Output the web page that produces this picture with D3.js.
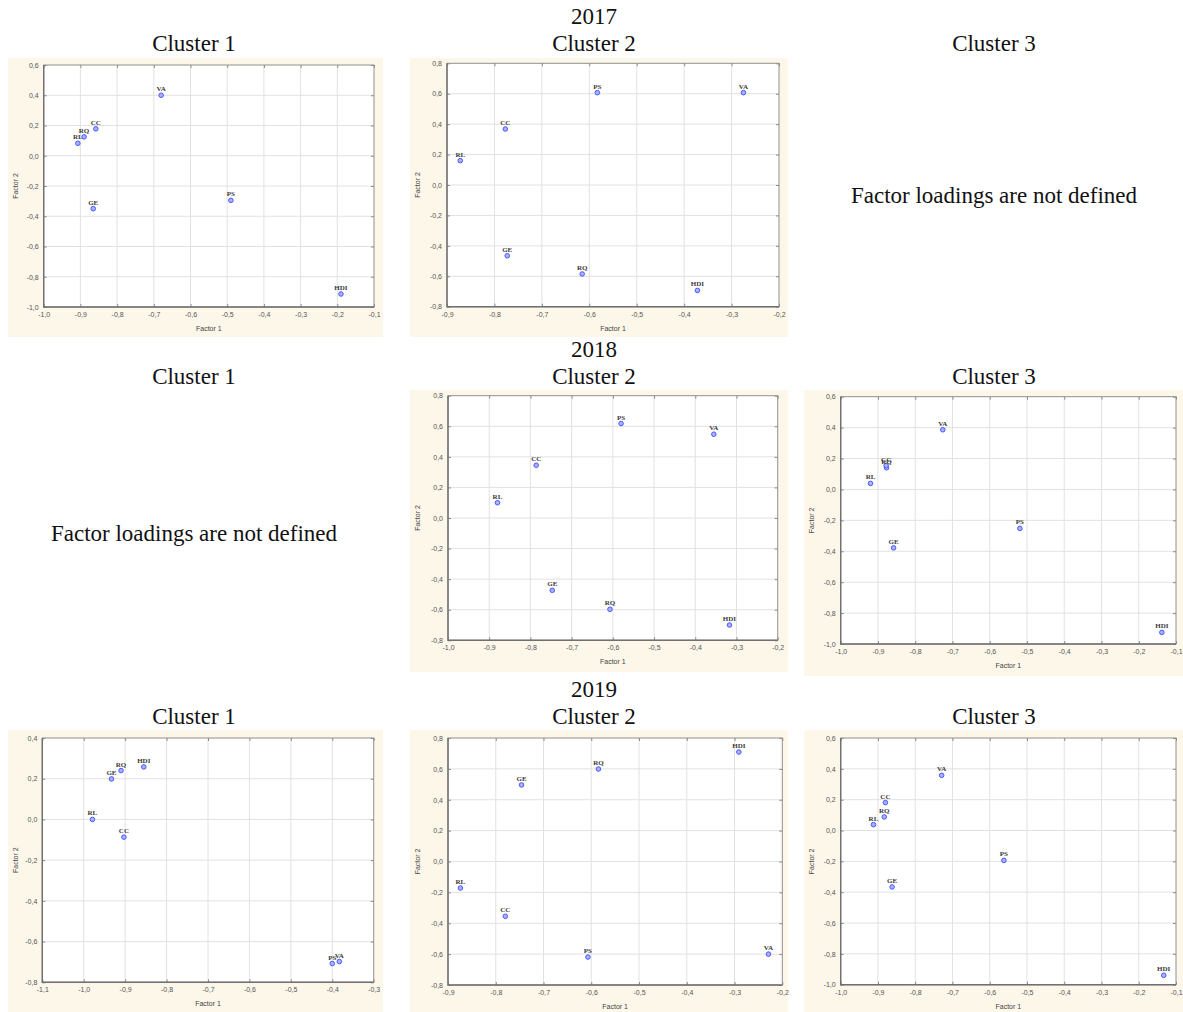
<!DOCTYPE html>
<html>
<head>
<meta charset="utf-8">
<script src="https://cdn.jsdelivr.net/npm/d3@7"></script>
<style>
  html, body { margin: 0; padding: 0; background: #fff; }
  svg { display: block; }
</style>
</head>
<body>
<svg id="chart" width="1183" height="1012"></svg>
<script>
// Indicator codes shown on the factor-loading plots
const codes = ["VA", "PS", "GE", "RQ", "RL", "CC", "HDI"];

// 2017, Cluster 1: Factor 1 / Factor 2 loadings (order follows `codes`)
const f1_2017_c1 = [-0.68, -0.49, -0.865, -0.89, -0.907, -0.858, -0.19];
const f2_2017_c1 = [0.40, -0.295, -0.35, 0.125, 0.082, 0.178, -0.914];
// 2017, Cluster 2
const f1_2017_c2 = [-0.275, -0.583, -0.773, -0.615, -0.872, -0.777, -0.372];
const f2_2017_c2 = [0.607, 0.607, -0.465, -0.585, 0.16, 0.368, -0.693];
// 2018, Cluster 2
const f1_2018_c2 = [-0.355, -0.58, -0.747, -0.607, -0.88, -0.786, -0.317];
const f2_2018_c2 = [0.548, 0.618, -0.473, -0.597, 0.10, 0.345, -0.70];
// 2018, Cluster 3
const f1_2018_c3 = [-0.726, -0.519, -0.858, -0.877, -0.92, -0.878, -0.138];
const f2_2018_c3 = [0.386, -0.252, -0.378, 0.14, 0.039, 0.154, -0.925];
// 2019, Cluster 1
const f1_2019_c1 = [-0.383, -0.40, -0.933, -0.91, -0.979, -0.903, -0.855];
const f2_2019_c1 = [-0.698, -0.708, 0.199, 0.24, 0.0, -0.087, 0.258];
// 2019, Cluster 2
const f1_2019_c2 = [-0.229, -0.607, -0.746, -0.585, -0.874, -0.78, -0.291];
const f2_2019_c2 = [-0.60, -0.619, 0.496, 0.599, -0.172, -0.355, 0.709];
// 2019, Cluster 3
const f1_2019_c3 = [-0.729, -0.562, -0.862, -0.883, -0.912, -0.88, -0.133];
const f2_2019_c3 = [0.358, -0.194, -0.366, 0.088, 0.038, 0.181, -0.939];

// Axis tick values
const ticksX_m10_m01 = [-1.0, -0.9, -0.8, -0.7, -0.6, -0.5, -0.4, -0.3, -0.2, -0.1];
const ticksX_m09_m02 = [-0.9, -0.8, -0.7, -0.6, -0.5, -0.4, -0.3, -0.2];
const ticksX_m10_m02 = [-1.0, -0.9, -0.8, -0.7, -0.6, -0.5, -0.4, -0.3, -0.2];
const ticksX_m11_m03 = [-1.1, -1.0, -0.9, -0.8, -0.7, -0.6, -0.5, -0.4, -0.3];
const ticksY_m10_06 = [-1.0, -0.8, -0.6, -0.4, -0.2, 0.0, 0.2, 0.4, 0.6];
const ticksY_m08_08 = [-0.8, -0.6, -0.4, -0.2, 0.0, 0.2, 0.4, 0.6, 0.8];
const ticksY_m08_04 = [-0.8, -0.6, -0.4, -0.2, 0.0, 0.2, 0.4];

// Headings
const years = ["2017", "2018", "2019"];
const clusterNames = ["Cluster 1", "Cluster 2", "Cluster 3"];
const emptyNote = "Factor loadings are not defined";

const svg = d3.select("#chart");
const serif = "'Liberation Serif', 'Times New Roman', serif";
const sans = "'Liberation Sans', Arial, sans-serif";
const fmt = v => d3.format(".1f")(v).replace("\u2212", "-").replace(".", ",");
const headSize = 23;

// Column centres and row heading baselines
const colX = [194, 594, 994];
const yearY = [24, 357, 697];
const clusterY = [51, 384, 724];

years.forEach((yr, r) => {
  svg.append("text").attr("x", colX[1]).attr("y", yearY[r])
    .attr("text-anchor", "middle").attr("font-family", serif)
    .attr("font-size", headSize).attr("fill", "#111").text(yr);
  clusterNames.forEach((c, i) => {
    svg.append("text").attr("x", colX[i]).attr("y", clusterY[r])
      .attr("text-anchor", "middle").attr("font-family", serif)
      .attr("font-size", headSize).attr("fill", "#111").text(c);
  });
});

// Notes for clusters without a solution
[[colX[2], 203], [colX[0], 541]].forEach(([x, y]) => {
  svg.append("text").attr("x", x).attr("y", y)
    .attr("text-anchor", "middle").attr("font-family", serif)
    .attr("font-size", headSize).attr("fill", "#111").text(emptyNote);
});

function drawPanel(p) {
  const g = svg.append("g");
  // cream page behind each plot
  g.append("rect").attr("x", p.bg[0]).attr("y", p.bg[1])
    .attr("width", p.bg[2] - p.bg[0]).attr("height", p.bg[3] - p.bg[1])
    .attr("fill", "#fdf7ea");

  const [L, T, R, B] = p.plot;
  const x = d3.scaleLinear().domain(d3.extent(p.tx)).range([L, R]);
  const y = d3.scaleLinear().domain(d3.extent(p.ty)).range([B, T]);

  g.append("rect").attr("x", L).attr("y", T).attr("width", R - L).attr("height", B - T)
    .attr("fill", "#fff");

  // grid
  g.append("g").selectAll("line").data(p.tx.slice(1, -1)).join("line")
    .attr("x1", d => x(d)).attr("x2", d => x(d)).attr("y1", T).attr("y2", B)
    .attr("stroke", "#e2e2e2").attr("stroke-width", 1);
  g.append("g").selectAll("line").data(p.ty.slice(1, -1)).join("line")
    .attr("y1", d => y(d)).attr("y2", d => y(d)).attr("x1", L).attr("x2", R)
    .attr("stroke", "#e2e2e2").attr("stroke-width", 1);

  // axes (ticks pointing inward on all sides)
  const axisStyle = sel => {
    sel.select(".domain").remove();
    sel.selectAll(".tick line").attr("stroke", "#8a8a8a");
    sel.selectAll(".tick text").attr("fill", "#555").attr("font-family", sans).attr("font-size", 7);
  };
  g.append("g").attr("transform", `translate(0,${B})`)
    .call(d3.axisBottom(x).tickValues(p.tx).tickFormat(fmt).tickSizeInner(-3).tickPadding(5))
    .call(axisStyle);
  g.append("g").attr("transform", `translate(0,${T})`)
    .call(d3.axisTop(x).tickValues(p.tx).tickFormat("").tickSizeInner(-3))
    .call(axisStyle);
  g.append("g").attr("transform", `translate(${L},0)`)
    .call(d3.axisLeft(y).tickValues(p.ty).tickFormat(fmt).tickSizeInner(-3).tickPadding(5))
    .call(axisStyle);
  g.append("g").attr("transform", `translate(${R},0)`)
    .call(d3.axisRight(y).tickValues(p.ty).tickFormat("").tickSizeInner(-3))
    .call(axisStyle);

  // frame
  g.append("rect").attr("x", L).attr("y", T).attr("width", R - L).attr("height", B - T)
    .attr("fill", "none").attr("stroke", "#909090").attr("stroke-width", 1);
  g.append("path").attr("d", `M${L},${T}V${B}H${R}`)
    .attr("fill", "none").attr("stroke", "#707070").attr("stroke-width", 1.4);

  // axis titles
  g.append("text").attr("x", (L + R) / 2).attr("y", B + 24)
    .attr("text-anchor", "middle").attr("font-family", sans).attr("font-size", 7)
    .attr("fill", "#444").text("Factor 1");
  g.append("text")
    .attr("transform", `translate(${p.bg[0] + 10},${(T + B) / 2}) rotate(-90)`)
    .attr("text-anchor", "middle").attr("font-family", sans).attr("font-size", 7)
    .attr("fill", "#444").text("Factor 2");

  // points and their labels
  const pts = codes.map((c, i) => ({ c, a: p.f1[i], b: p.f2[i] }));
  g.append("g").selectAll("circle").data(pts).join("circle")
    .attr("cx", d => x(d.a)).attr("cy", d => y(d.b)).attr("r", 2.3)
    .attr("fill", "#a9b1ff").attr("stroke", "#3d4dff").attr("stroke-width", 0.9);
  g.append("g").selectAll("text").data(pts).join("text")
    .attr("x", d => x(d.a)).attr("y", d => y(d.b) - 4)
    .attr("text-anchor", "middle").attr("font-family", serif)
    .attr("font-size", 7).attr("font-weight", "bold").attr("fill", "#3a3a3a")
    .text(d => d.c);
}

const panels = [
  { bg: [8, 58, 383, 337], plot: [43.7, 65, 374, 307], tx: ticksX_m10_m01, ty: ticksY_m10_06, f1: f1_2017_c1, f2: f2_2017_c1 },
  { bg: [410, 58, 788, 337], plot: [447, 63.3, 779, 306.7], tx: ticksX_m09_m02, ty: ticksY_m08_08, f1: f1_2017_c2, f2: f2_2017_c2 },
  { bg: [410, 390, 788, 672], plot: [448, 395.7, 777.7, 640.3], tx: ticksX_m10_m02, ty: ticksY_m08_08, f1: f1_2018_c2, f2: f2_2018_c2 },
  { bg: [804, 390, 1183, 676], plot: [840.7, 396.7, 1176, 644], tx: ticksX_m10_m01, ty: ticksY_m10_06, f1: f1_2018_c3, f2: f2_2018_c3 },
  { bg: [8, 730, 383, 1012], plot: [42.3, 738, 373.7, 982.3], tx: ticksX_m11_m03, ty: ticksY_m08_04, f1: f1_2019_c1, f2: f2_2019_c1 },
  { bg: [410, 730, 788, 1012], plot: [448, 738, 782.3, 985], tx: ticksX_m09_m02, ty: ticksY_m08_08, f1: f1_2019_c2, f2: f2_2019_c2 },
  { bg: [804, 730, 1183, 1012], plot: [840.7, 738, 1176, 984.7], tx: ticksX_m10_m01, ty: ticksY_m10_06, f1: f1_2019_c3, f2: f2_2019_c3 }
];
panels.forEach(drawPanel);
</script>
</body>
</html>
